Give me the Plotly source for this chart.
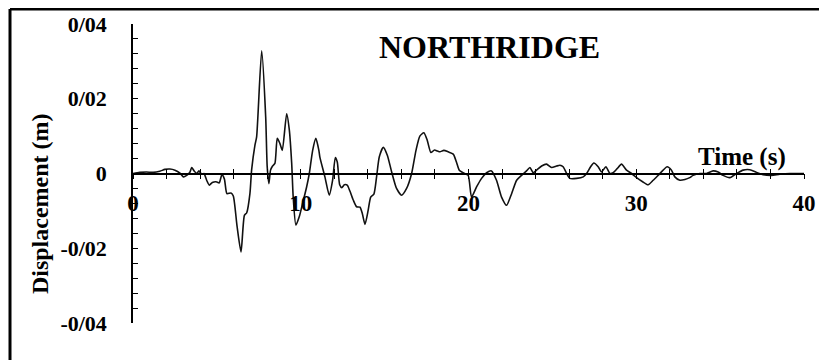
import plotly.graph_objects as go

# Northridge displacement time history
time_s = [0.0, 0.4, 0.8, 1.2, 1.6, 1.9, 2.2, 2.5, 2.8, 3.0, 3.2, 3.4, 3.5, 3.64, 3.8, 3.93,
          4.09, 4.23, 4.39, 4.55, 4.73, 4.95, 5.14, 5.30, 5.45, 5.6, 5.84, 5.98, 6.2, 6.44,
          6.64, 6.78, 6.97, 7.07, 7.27, 7.37, 7.67, 7.91, 8.0, 8.1, 8.2, 8.32, 8.46, 8.6,
          8.76, 8.9, 9.16, 9.32, 9.46, 9.55, 9.71, 9.91, 10.11, 10.35, 10.51, 10.71, 10.9,
          11.08, 11.14, 11.44, 11.7, 11.9, 12.06, 12.18, 12.32, 12.45, 12.6, 12.77, 12.93,
          13.13, 13.33, 13.53, 13.67, 13.83, 14.02, 14.17, 14.36, 14.52, 14.68, 14.92, 15.16,
          15.42, 15.71, 16.01, 16.31, 16.61, 16.87, 17.1, 17.34, 17.54, 17.76, 17.97, 18.15,
          18.3, 18.53, 18.79, 19.09, 19.28, 19.45, 19.68, 19.98, 20.18, 20.48, 20.78, 21.08,
          21.37, 21.67, 21.97, 22.27, 22.57, 22.87, 23.16, 23.46, 23.66, 23.86, 24.06, 24.36,
          24.65, 24.95, 25.25, 25.45, 25.64, 25.85, 26.04, 26.44, 26.84, 27.04, 27.28, 27.47,
          27.73, 27.93, 28.19, 28.43, 28.62, 28.86, 29.12, 29.42, 29.72, 30.02, 30.38, 30.71,
          31.01, 31.3, 31.6, 31.84, 32.1, 32.3, 32.6, 32.9, 33.19, 33.39, 33.79, 34.19, 34.58,
          34.88, 35.18, 35.58, 35.98, 36.37, 36.77, 37.17, 37.56, 38.06, 38.56, 39.16, 39.75,
          40.0]
disp_m = [0.0, 0.0003, 0.0004, 0.0003, 0.0006, 0.0011, 0.0012, 0.0009, 0.0001, -0.0009,
          -0.0005, 0.0004, 0.0016, 0.0007, 0.0, 0.0007, -0.0002, 0.0, -0.0018, -0.0031,
          -0.0024, -0.0022, -0.0025, -0.0003, -0.0015, -0.0054, -0.0052, -0.006, -0.014,
          -0.021, -0.0112, -0.0105, -0.0054, 0.0009, 0.0076, 0.0098, 0.0328, 0.0151, 0.0018,
          -0.0027, 0.0009, 0.002, 0.0027, 0.0094, 0.008, 0.0062, 0.016, 0.0116, 0.0027,
          -0.0063, -0.0138, -0.0116, -0.008, -0.0036, 0.0, 0.0062, 0.0094, 0.0062, 0.0044,
          -0.0009, -0.0058, -0.0018, 0.0043, 0.003, -0.003, -0.0038, -0.003, -0.0031, -0.0047,
          -0.0071, -0.0089, -0.009, -0.0107, -0.0136, -0.0098, -0.0063, -0.0055, -0.0009,
          0.0044, 0.007, 0.0049, 0.0004, -0.004, -0.0058, -0.004, 0.0, 0.0062, 0.01, 0.0109,
          0.0089, 0.0056, 0.0063, 0.006, 0.0058, 0.0062, 0.0058, 0.0052, 0.0031, 0.0009,
          0.0002, -0.0005, -0.0063, -0.0036, -0.0013, 0.0002, 0.0007, -0.0018, -0.0063,
          -0.0085, -0.0054, -0.0018, -0.0005, 0.0007, 0.0016, 0.0002, 0.0009, 0.002, 0.0025,
          0.0016, 0.002, 0.0022, 0.0018, 0.0, -0.0013, -0.0013, -0.0009, 0.0, 0.0018, 0.0028,
          0.0018, 0.0004, 0.0018, 0.0, 0.0002, 0.0013, 0.0025, 0.0009, 0.0, -0.0011, -0.0022,
          -0.003, -0.0018, -0.0005, 0.0009, 0.0018, 0.0009, -0.0009, -0.0018, -0.0016, -0.0011,
          -0.0005, 0.0, 0.0, 0.0007, 0.0004, -0.0005, -0.0011, 0.0, 0.0009, 0.001, 0.0003,
          -0.0003, -0.0005, -0.0002, 0.0, 0.0, 0.0]

x_tick_vals = [0, 10, 20, 30, 40]
x_tick_text = ["0", "10", "20", "30", "40"]
y_tick_vals = [0.04, 0.02, 0.0, -0.02, -0.04]
y_tick_text = ["0/04", "0/02", "0", "-0/02", "-0/04"]

title_text = "NORTHRIDGE"
x_title = "Time (s)"
y_title = "Displacement (m)"

FONT = "Liberation Serif"

fig = go.Figure()
fig.add_trace(go.Scatter(x=time_s, y=disp_m, mode="lines",
                         line=dict(color="#111111", width=1.6, shape="spline", smoothing=0.6),
                         showlegend=False, hoverinfo="skip"))
# dummy trace for the inner-tick overlay axis
fig.add_trace(go.Scatter(x=[0, 40], y=[0, 0], xaxis="x2", mode="lines",
                         line=dict(width=0), showlegend=False, hoverinfo="skip"))

# the page body has an 8px default margin, so the figure is 8px smaller than the window
fig.update_layout(
    width=819, height=352,
    margin=dict(l=125, r=23, t=16, b=37, autoexpand=False),
    paper_bgcolor="white", plot_bgcolor="white",
    font=dict(family=FONT, color="black"),
    xaxis=dict(range=[0, 40], anchor="free", position=0.5, automargin=False,
               showline=True, linecolor="black", linewidth=1.5,
               showgrid=False, zeroline=False,
               tickmode="array", tickvals=x_tick_vals, ticktext=x_tick_text,
               ticks="outside", ticklen=5, tickwidth=1.3, tickcolor="black",
               minor=dict(dtick=2, ticks="outside", ticklen=5, tickwidth=1.3, tickcolor="black"),
               tickfont=dict(family=FONT, size=23, weight="bold", color="black"),
               ticklabelstandoff=4),
    xaxis2=dict(range=[0, 40], overlaying="x", anchor="free", position=0.5, automargin=False,
                showline=False, showgrid=False, zeroline=False, showticklabels=False,
                tickmode="array", tickvals=x_tick_vals,
                ticks="inside", ticklen=5, tickwidth=1.3, tickcolor="black",
                minor=dict(dtick=2, ticks="inside", ticklen=5, tickwidth=1.3, tickcolor="black")),
    yaxis=dict(range=[-0.04, 0.04], showline=True, linecolor="black", linewidth=1.5,
               showgrid=False, zeroline=False, automargin=False,
               tickmode="array", tickvals=y_tick_vals, ticktext=y_tick_text,
               ticks="inside", ticklen=5, tickwidth=1.3, tickcolor="black",
               minor=dict(dtick=0.004, ticks="inside", ticklen=5, tickwidth=1.3, tickcolor="black"),
               tickfont=dict(family=FONT, size=22, weight="bold", color="black"),
               ticklabelstandoff=20),
    annotations=[
        dict(text="<b>" + title_text + "</b>", xref="paper", yref="paper",
             x=0.532, y=0.923, xanchor="center", yanchor="middle", showarrow=False,
             font=dict(family=FONT, size=32, color="black")),
        dict(text="<b>" + x_title + "</b>", xref="paper", yref="paper",
             x=0.9076, y=0.555, xanchor="center", yanchor="middle", showarrow=False,
             font=dict(family=FONT, size=25, color="black")),
        dict(text="<b>" + y_title + "</b>", xref="paper", yref="paper",
             x=-0.1386, y=0.401, xanchor="center", yanchor="middle", showarrow=False,
             textangle=-90, font=dict(family=FONT, size=24, color="black")),
    ],
    shapes=[
        dict(type="line", xref="paper", yref="paper", x0=-0.1833, x1=1.2, y0=1.0502, y1=1.0502,
             line=dict(color="black", width=3)),
        dict(type="line", xref="paper", yref="paper", x0=-0.1833, x1=-0.1833, y0=1.0502, y1=-0.3,
             line=dict(color="black", width=3)),
    ],
)

fig.write_html("out.html")
